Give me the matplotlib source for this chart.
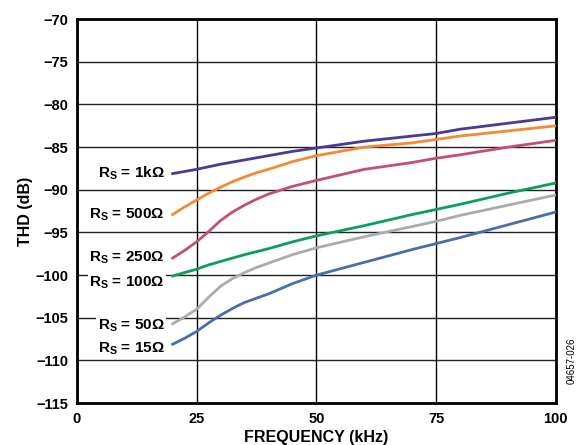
import matplotlib
matplotlib.use("Agg")
import matplotlib.pyplot as plt

plt.rcParams['font.family'] = ['Liberation Sans', 'DejaVu Sans']

freq = [20, 22.5, 25, 27.5, 30, 32.5, 35, 37.5, 40, 45, 50, 60, 70, 75, 80, 90, 100]

thd_1k = [-88.1, -87.85, -87.6, -87.3, -87.0, -86.75, -86.5, -86.25, -86.0, -85.5, -85.1, -84.3, -83.7, -83.4, -82.9, -82.2, -81.5]
thd_500 = [-92.9, -92.0, -91.2, -90.4, -89.7, -89.05, -88.5, -88.0, -87.6, -86.7, -86.0, -85.0, -84.5, -84.1, -83.7, -83.1, -82.5]
thd_250 = [-98.0, -97.1, -96.1, -94.9, -93.6, -92.6, -91.8, -91.1, -90.5, -89.6, -88.9, -87.6, -86.8, -86.3, -85.9, -85.0, -84.2]
thd_100 = [-100.1, -99.7, -99.3, -98.8, -98.4, -98.0, -97.6, -97.25, -96.9, -96.1, -95.4, -94.2, -92.9, -92.3, -91.7, -90.4, -89.2]
thd_50 = [-105.7, -104.9, -104.0, -102.6, -101.3, -100.4, -99.7, -99.1, -98.6, -97.6, -96.8, -95.5, -94.3, -93.7, -93.0, -91.8, -90.6]
thd_15 = [-108.1, -107.4, -106.6, -105.6, -104.7, -103.9, -103.2, -102.7, -102.2, -101.0, -100.0, -98.5, -97.0, -96.3, -95.6, -94.1, -92.6]

labels = [r'R$_\mathbf{S}$ = 1k$\Omega$', r'R$_\mathbf{S}$ = 500$\Omega$', r'R$_\mathbf{S}$ = 250$\Omega$',
          r'R$_\mathbf{S}$ = 100$\Omega$', r'R$_\mathbf{S}$ = 50$\Omega$', r'R$_\mathbf{S}$ = 15$\Omega$']
series = [thd_1k, thd_500, thd_250, thd_100, thd_50, thd_15]
colors = ['#4a3a92', '#f58a32', '#c4506e', '#08a05c', '#ababab', '#4a6ea8']
label_y = [-88.1, -92.9, -98.0, -100.9, -105.9, -108.6]

plt.rcParams['mathtext.fontset'] = 'custom'
plt.rcParams['mathtext.rm'] = 'Liberation Sans:bold'
plt.rcParams['mathtext.bf'] = 'Liberation Sans:bold'

fig = plt.figure(figsize=(5.82, 4.45), dpi=100)
ax = fig.add_axes([0.132, 0.094, 0.823, 0.863])

for y, c in zip(series, colors):
    ax.plot(freq, y, color=c, lw=2, zorder=3)

for lab, y in zip(labels, label_y):
    ax.text(18.3, y, lab, ha='right', va='center', fontsize=11, fontweight='bold',
            bbox=dict(facecolor='white', edgecolor='none', pad=1.0), zorder=4)

ax.set_xlim(0, 100)
ax.set_ylim(-115, -70)
ax.set_xticks([0, 25, 50, 75, 100])
ax.set_yticks(range(-115, -69, 5))
ax.set_yticklabels(['\u2212' + str(abs(v)) for v in range(-115, -69, 5)])
ax.tick_params(length=0, pad=6, labelsize=10.5)
for t in ax.get_xticklabels() + ax.get_yticklabels():
    t.set_fontweight('bold')
ax.grid(axis='x', color='black', lw=1.0, zorder=1)
ax.grid(axis='y', color='#222222', lw=1.0, zorder=1)
for s in ax.spines.values():
    s.set_linewidth(2)

ax.set_xlabel('FREQUENCY (kHz)', fontsize=11.5, fontweight='bold', labelpad=3)
ax.set_ylabel('THD (dB)', fontsize=11.5, fontweight='bold', labelpad=2)
fig.text(0.983, 0.19, '04657-026', rotation=90, fontsize=7, ha='center', va='center')

fig.savefig('out.png', dpi=100)
